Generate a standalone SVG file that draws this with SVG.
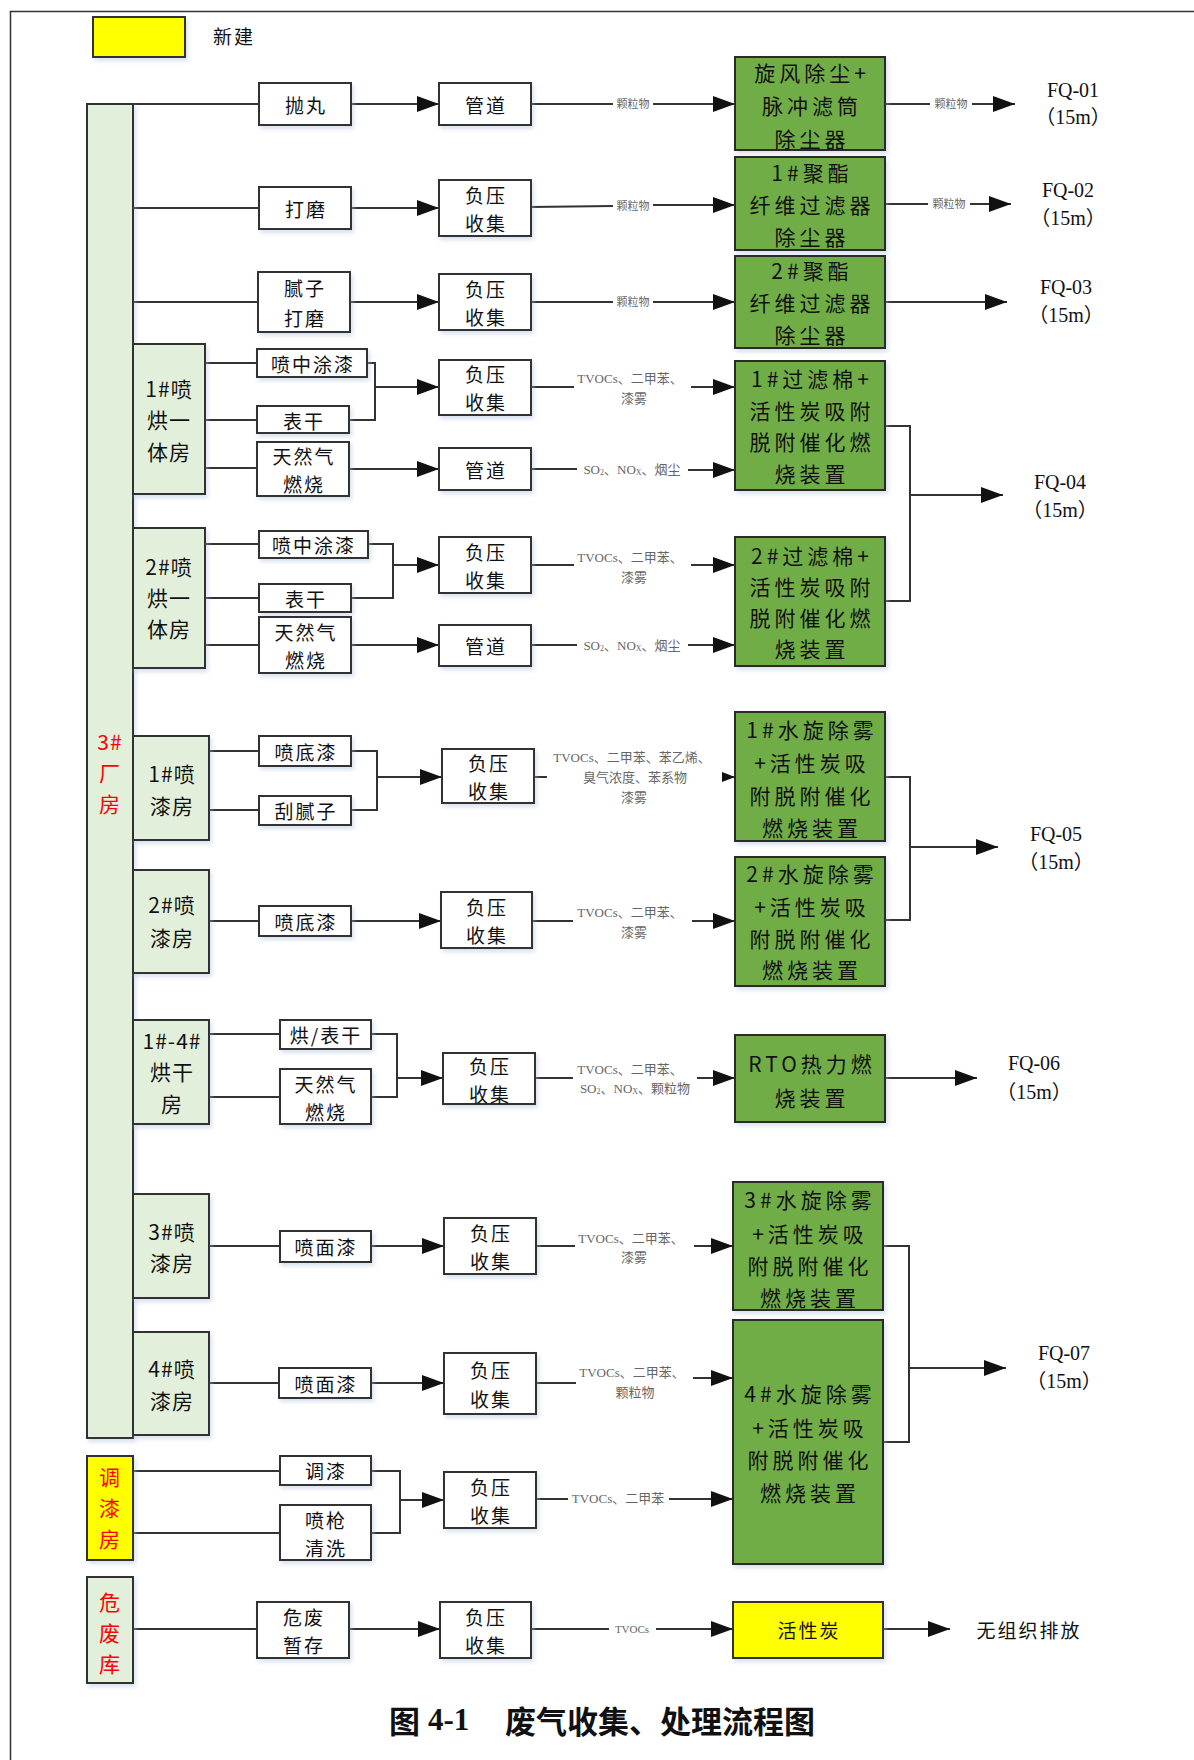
<svg xmlns="http://www.w3.org/2000/svg" width="1194" height="1760" viewBox="0 0 1194 1760">
<style>
.box{fill:#fff;stroke:#333;stroke-width:2}
.room{fill:#e2efda;stroke:#333;stroke-width:2}
.grn{fill:#70ad47;stroke:#2a2a2a;stroke-width:2}
.yel{fill:#ffff00;stroke:#333;stroke-width:2}
.t{font-family:"Noto Sans CJK SC","Liberation Sans",sans-serif;font-size:19px;letter-spacing:2px;fill:#111;text-anchor:middle;dominant-baseline:central}
.tr{font-family:"Noto Sans CJK SC","Liberation Sans",sans-serif;font-size:21px;letter-spacing:1px;fill:#111;text-anchor:middle;dominant-baseline:central}
.red{fill:#ff0000}
.tg{font-family:"Noto Sans CJK SC","Liberation Sans",sans-serif;font-size:21px;letter-spacing:4px;fill:#111;text-anchor:middle;dominant-baseline:central}
.fq{font-family:"Liberation Serif","Noto Sans CJK SC",serif;font-size:20px;fill:#111;text-anchor:middle;dominant-baseline:central}
.lb{font-family:"Liberation Serif","Noto Sans CJK SC",serif;font-size:13px;fill:#666;text-anchor:middle;dominant-baseline:central}
.ln{fill:none;stroke:#333;stroke-width:2}
.ar{marker-end:url(#ah)}
.cap{font-family:"Liberation Serif","Noto Sans CJK SC",serif;font-size:31px;font-weight:bold;fill:#111;dominant-baseline:central}
</style>
<defs>
<marker id="ah" markerUnits="userSpaceOnUse" markerWidth="22" markerHeight="16" refX="22" refY="8" orient="auto"><path d="M0,0 L22,8 L0,16 z" fill="#111"/></marker>
<marker id="ahs" markerUnits="userSpaceOnUse" markerWidth="13" markerHeight="10" refX="13" refY="5" orient="auto"><path d="M0,0 L13,5 L0,10 z" fill="#111"/></marker>
<filter id="sh" x="-10%" y="-10%" width="125%" height="130%"><feDropShadow dx="2" dy="3" stdDeviation="2" flood-color="#a9bddd" flood-opacity="0.45"/></filter>
</defs>

<g id="frame"><path d="M10.5,1760 V11.5 H1194" fill="none" stroke="#333" stroke-width="1.5"/></g>

<g id="legend"><rect x="93" y="17" width="92" height="40" class="yel" filter="url(#sh)"/><text x="234" y="35" class="t">新建</text></g>

<g id="connectors">
<!-- row1 -->
<path class="ln" d="M133,104 H259"/>
<path class="ln ar" d="M351,104 H439"/>
<path class="ln" d="M531,104 H613"/><text class="lb" x="633" y="104" style="font-size:11px">颗粒物</text><path class="ln ar" d="M653,104 H735"/>
<path class="ln" d="M885,104 H930"/><text class="lb" x="951" y="104" style="font-size:11px">颗粒物</text><path class="ln ar" d="M972,104 H1015"/>
<!-- row2 -->
<path class="ln" d="M133,208 H259"/>
<path class="ln ar" d="M351,208 H439"/>
<path class="ln" d="M531,207 L613,206"/><text class="lb" x="633" y="206" style="font-size:11px">颗粒物</text><path class="ln ar" d="M653,205 H735"/>
<path class="ln" d="M885,204 H928"/><text class="lb" x="949" y="204" style="font-size:11px">颗粒物</text><path class="ln ar" d="M970,204 H1011"/>
<!-- row3 -->
<path class="ln" d="M133,302 H258"/>
<path class="ln ar" d="M350,302 H439"/>
<path class="ln" d="M531,302 H613"/><text class="lb" x="633" y="302" style="font-size:11px">颗粒物</text><path class="ln ar" d="M653,302 H735"/>
<path class="ln ar" d="M885,302 H1007"/>
<!-- R1 -->
<path class="ln" d="M205,363 H257 M205,420 H257 M205,468 H257"/>
<path class="ln" d="M367,363 H375 V420 H349"/>
<path class="ln ar" d="M375,387 H439"/>
<path class="ln" d="M531,387 H574"/>
<text class="lb" x="630" y="378">TVOCs、二甲苯、</text><text class="lb" x="634" y="398">漆雾</text>
<path class="ln ar" d="M691,387 H735"/>
<path class="ln ar" d="M349,469 H439"/>
<path class="ln" d="M531,469 H577"/>
<text class="lb" x="632" y="469">SO<tspan font-size="8" dy="3">2</tspan><tspan dy="-3">、NO</tspan><tspan font-size="8" dy="3">X</tspan><tspan dy="-3">、烟尘</tspan></text>
<path class="ln ar" d="M688,470 H735"/>
<path class="ln" d="M885,426 H910 V601 H885"/>
<path class="ln ar" d="M910,495 H1003"/>
<!-- R2 -->
<path class="ln" d="M205,544 H259 M205,598 H259 M205,645 H259"/>
<path class="ln" d="M368,544 H393 V598 H351"/>
<path class="ln ar" d="M393,565 H439"/>
<path class="ln" d="M531,565 H574"/>
<text class="lb" x="630" y="557">TVOCs、二甲苯、</text><text class="lb" x="634" y="577">漆雾</text>
<path class="ln ar" d="M691,565 H735"/>
<path class="ln ar" d="M351,645 H439"/>
<path class="ln" d="M531,645 H577"/>
<text class="lb" x="632" y="645">SO<tspan font-size="8" dy="3">2</tspan><tspan dy="-3">、NO</tspan><tspan font-size="8" dy="3">X</tspan><tspan dy="-3">、烟尘</tspan></text>
<path class="ln ar" d="M688,645 H735"/>
<!-- R3 -->
<path class="ln" d="M209,751 H259 M209,810 H259"/>
<path class="ln" d="M351,751 H377 V810 H351"/>
<path class="ln ar" d="M377,777 H442"/>
<path class="ln" d="M534,777 H547"/>
<text class="lb" x="632" y="757">TVOCs、二甲苯、苯乙烯、</text>
<text class="lb" x="635" y="777">臭气浓度、苯系物</text>
<text class="lb" x="634" y="797">漆雾</text>
<path class="ln" d="M722,777 H735" marker-end="url(#ahs)"/>
<path class="ln" d="M885,777 H910 V920 H885"/>
<path class="ln ar" d="M910,847 H998"/>
<!-- R4 -->
<path class="ln" d="M209,921 H259"/>
<path class="ln ar" d="M351,921 H441"/>
<path class="ln" d="M532,921 H573"/>
<text class="lb" x="630" y="912">TVOCs、二甲苯、</text><text class="lb" x="634" y="932">漆雾</text>
<path class="ln ar" d="M692,921 H735"/>
<!-- R5 -->
<path class="ln" d="M209,1034 H280 M209,1097 H280"/>
<path class="ln" d="M371,1034 H397 V1097 H371"/>
<path class="ln ar" d="M397,1078 H443"/>
<path class="ln" d="M535,1078 H573"/>
<text class="lb" x="630" y="1069">TVOCs、二甲苯、</text>
<text class="lb" x="635" y="1088">SO<tspan font-size="8" dy="3">2</tspan><tspan dy="-3">、NO</tspan><tspan font-size="8" dy="3">X</tspan><tspan dy="-3">、颗粒物</tspan></text>
<path class="ln ar" d="M697,1078 H735"/>
<path class="ln ar" d="M885,1078 H977"/>
<!-- R6 -->
<path class="ln" d="M209,1246 H280"/>
<path class="ln ar" d="M371,1246 H444"/>
<path class="ln" d="M536,1246 H575"/>
<text class="lb" x="631" y="1238">TVOCs、二甲苯、</text><text class="lb" x="634" y="1257">漆雾</text>
<path class="ln ar" d="M694,1246 H733"/>
<path class="ln" d="M883,1246 H909 V1442 H883"/>
<path class="ln ar" d="M909,1368 H1006"/>
<!-- R7 -->
<path class="ln" d="M209,1383 H279"/>
<path class="ln ar" d="M371,1383 H444"/>
<path class="ln" d="M536,1383 H576"/>
<text class="lb" x="632" y="1372">TVOCs、二甲苯、</text><text class="lb" x="635" y="1392">颗粒物</text>
<path class="ln ar" d="M693,1378 H733"/>
<!-- tiaoqi -->
<path class="ln" d="M133,1471 H280 M133,1533 H280"/>
<path class="ln" d="M371,1471 H400 V1533 H371"/>
<path class="ln ar" d="M400,1500 H444"/>
<path class="ln" d="M536,1499 H568"/>
<text class="lb" x="618" y="1498">TVOCs、二甲苯</text>
<path class="ln ar" d="M669,1499 H733"/>
<!-- weifei -->
<path class="ln" d="M133,1629 H257"/>
<path class="ln ar" d="M349,1629 H440"/>
<path class="ln" d="M531,1629 H609"/>
<text class="lb" x="632" y="1629" style="font-size:11px">TVOCs</text>
<path class="ln ar" d="M656,1629 H733"/>
<path class="ln ar" d="M883,1629 H950"/>
</g>

<!-- main bar -->
<g id="n-plant3"><rect x="87" y="104" width="46" height="1334" class="room" filter="url(#sh)"/>
<text class="tr red" x="110" y="741">3#</text><text class="tr red" x="110" y="772">厂</text><text class="tr red" x="110" y="803">房</text></g>

<!-- rooms -->
<g id="n-room-1pho"><rect x="133" y="344" width="72" height="150" class="room" filter="url(#sh)"/>
<text class="tr" x="169" y="388">1#喷</text><text class="tr" x="169" y="419">烘一</text><text class="tr" x="169" y="451">体房</text></g>
<g id="n-room-2pho"><rect x="133" y="528" width="72" height="140" class="room" filter="url(#sh)"/>
<text class="tr" x="169" y="566">2#喷</text><text class="tr" x="169" y="597">烘一</text><text class="tr" x="169" y="628">体房</text></g>
<g id="n-room-1pq"><rect x="133" y="736" width="76" height="104" class="room" filter="url(#sh)"/>
<text class="tr" x="172" y="773">1#喷</text><text class="tr" x="172" y="805">漆房</text></g>
<g id="n-room-2pq"><rect x="133" y="870" width="76" height="103" class="room" filter="url(#sh)"/>
<text class="tr" x="172" y="904">2#喷</text><text class="tr" x="172" y="937">漆房</text></g>
<g id="n-room-hg"><rect x="133" y="1020" width="76" height="104" class="room" filter="url(#sh)"/>
<text class="tr" x="172" y="1040">1#-4#</text><text class="tr" x="172" y="1071">烘干</text><text class="tr" x="172" y="1103">房</text></g>
<g id="n-room-3pq"><rect x="133" y="1194" width="76" height="104" class="room" filter="url(#sh)"/>
<text class="tr" x="172" y="1231">3#喷</text><text class="tr" x="172" y="1262">漆房</text></g>
<g id="n-room-4pq"><rect x="133" y="1332" width="76" height="103" class="room" filter="url(#sh)"/>
<text class="tr" x="172" y="1368">4#喷</text><text class="tr" x="172" y="1400">漆房</text></g>
<g id="n-tiaoqi"><rect x="87" y="1456" width="46" height="104" class="yel" filter="url(#sh)"/>
<text class="tr red" x="110" y="1476">调</text><text class="tr red" x="110" y="1507">漆</text><text class="tr red" x="110" y="1538">房</text></g>
<g id="n-weifeiku"><rect x="87" y="1577" width="46" height="106" class="room" filter="url(#sh)"/>
<text class="tr red" x="110" y="1601">危</text><text class="tr red" x="110" y="1632">废</text><text class="tr red" x="110" y="1663">库</text></g>

<!-- process boxes -->
<g id="n-paowan"><rect x="259" y="83" width="92" height="42" class="box" filter="url(#sh)"/><text class="t" x="306" y="104">抛丸</text></g>
<g id="n-gd1"><rect x="439" y="83" width="92" height="42" class="box" filter="url(#sh)"/><text class="t" x="486" y="104">管道</text></g>
<g id="n-damo"><rect x="259" y="187" width="92" height="42" class="box" filter="url(#sh)"/><text class="t" x="306" y="208">打磨</text></g>
<g id="n-fy2"><rect x="439" y="180" width="92" height="56" class="box" filter="url(#sh)"/><text class="t" x="486" y="194">负压</text><text class="t" x="486" y="222">收集</text></g>
<g id="n-nizi"><rect x="258" y="272" width="92" height="60" class="box" filter="url(#sh)"/><text class="t" x="305" y="287">腻子</text><text class="t" x="305" y="317">打磨</text></g>
<g id="n-fy3"><rect x="439" y="274" width="92" height="56" class="box" filter="url(#sh)"/><text class="t" x="486" y="288">负压</text><text class="t" x="486" y="316">收集</text></g>

<g id="n-pz1"><rect x="257" y="349" width="110" height="28" class="box" filter="url(#sh)"/><text class="t" x="313" y="363">喷中涂漆</text></g>
<g id="n-bg1"><rect x="257" y="406" width="92" height="27" class="box" filter="url(#sh)"/><text class="t" x="304" y="420">表干</text></g>
<g id="n-trq1"><rect x="257" y="442" width="92" height="54" class="box" filter="url(#sh)"/><text class="t" x="304" y="455">天然气</text><text class="t" x="304" y="483">燃烧</text></g>
<g id="n-fy4"><rect x="439" y="360" width="92" height="55" class="box" filter="url(#sh)"/><text class="t" x="486" y="373">负压</text><text class="t" x="486" y="401">收集</text></g>
<g id="n-gd4"><rect x="439" y="448" width="92" height="42" class="box" filter="url(#sh)"/><text class="t" x="486" y="469">管道</text></g>

<g id="n-pz2"><rect x="259" y="531" width="109" height="27" class="box" filter="url(#sh)"/><text class="t" x="314" y="544">喷中涂漆</text></g>
<g id="n-bg2"><rect x="259" y="584" width="92" height="28" class="box" filter="url(#sh)"/><text class="t" x="306" y="598">表干</text></g>
<g id="n-trq2"><rect x="259" y="617" width="92" height="56" class="box" filter="url(#sh)"/><text class="t" x="306" y="631">天然气</text><text class="t" x="306" y="659">燃烧</text></g>
<g id="n-fy5"><rect x="439" y="537" width="92" height="56" class="box" filter="url(#sh)"/><text class="t" x="486" y="551">负压</text><text class="t" x="486" y="579">收集</text></g>
<g id="n-gd5"><rect x="439" y="625" width="92" height="41" class="box" filter="url(#sh)"/><text class="t" x="486" y="645">管道</text></g>

<g id="n-pdq1"><rect x="259" y="736" width="92" height="30" class="box" filter="url(#sh)"/><text class="t" x="306" y="751">喷底漆</text></g>
<g id="n-gnz"><rect x="259" y="796" width="92" height="29" class="box" filter="url(#sh)"/><text class="t" x="306" y="810">刮腻子</text></g>
<g id="n-fy6"><rect x="442" y="749" width="92" height="54" class="box" filter="url(#sh)"/><text class="t" x="489" y="762">负压</text><text class="t" x="489" y="790">收集</text></g>

<g id="n-pdq2"><rect x="259" y="906" width="92" height="30" class="box" filter="url(#sh)"/><text class="t" x="306" y="921">喷底漆</text></g>
<g id="n-fy7"><rect x="441" y="892" width="91" height="56" class="box" filter="url(#sh)"/><text class="t" x="487" y="906">负压</text><text class="t" x="487" y="934">收集</text></g>

<g id="n-hbg"><rect x="280" y="1020" width="91" height="29" class="box" filter="url(#sh)"/><text class="t" x="326" y="1034">烘/表干</text></g>
<g id="n-trq3"><rect x="280" y="1069" width="91" height="55" class="box" filter="url(#sh)"/><text class="t" x="326" y="1083">天然气</text><text class="t" x="326" y="1111">燃烧</text></g>
<g id="n-fy8"><rect x="443" y="1053" width="92" height="51" class="box" filter="url(#sh)"/><text class="t" x="490" y="1065">负压</text><text class="t" x="490" y="1093">收集</text></g>

<g id="n-pmq3"><rect x="280" y="1231" width="91" height="31" class="box" filter="url(#sh)"/><text class="t" x="326" y="1246">喷面漆</text></g>
<g id="n-fy9"><rect x="444" y="1218" width="92" height="56" class="box" filter="url(#sh)"/><text class="t" x="491" y="1232">负压</text><text class="t" x="491" y="1260">收集</text></g>

<g id="n-pmq4"><rect x="279" y="1368" width="92" height="30" class="box" filter="url(#sh)"/><text class="t" x="326" y="1383">喷面漆</text></g>
<g id="n-fy10"><rect x="444" y="1353" width="92" height="61" class="box" filter="url(#sh)"/><text class="t" x="491" y="1369">负压</text><text class="t" x="491" y="1398">收集</text></g>

<g id="n-tq"><rect x="280" y="1456" width="91" height="29" class="box" filter="url(#sh)"/><text class="t" x="326" y="1470">调漆</text></g>
<g id="n-pqqx"><rect x="280" y="1505" width="91" height="55" class="box" filter="url(#sh)"/><text class="t" x="326" y="1519">喷枪</text><text class="t" x="326" y="1547">清洗</text></g>
<g id="n-fy11"><rect x="444" y="1472" width="92" height="56" class="box" filter="url(#sh)"/><text class="t" x="491" y="1486">负压</text><text class="t" x="491" y="1514">收集</text></g>

<g id="n-wfzc"><rect x="257" y="1602" width="92" height="56" class="box" filter="url(#sh)"/><text class="t" x="304" y="1616">危废</text><text class="t" x="304" y="1644">暂存</text></g>
<g id="n-fy12"><rect x="440" y="1602" width="91" height="56" class="box" filter="url(#sh)"/><text class="t" x="486" y="1616">负压</text><text class="t" x="486" y="1644">收集</text></g>

<!-- treatment (green) -->
<g id="n-g1"><rect x="735" y="57" width="150" height="93" class="grn" filter="url(#sh)"/>
<text class="tg" x="812" y="72">旋风除尘+</text><text class="tg" x="812" y="105">脉冲滤筒</text><text class="tg" x="812" y="138">除尘器</text></g>
<g id="n-g2"><rect x="735" y="157" width="150" height="93" class="grn" filter="url(#sh)"/>
<text class="tg" x="812" y="172">1#聚酯</text><text class="tg" x="812" y="204">纤维过滤器</text><text class="tg" x="812" y="236">除尘器</text></g>
<g id="n-g3"><rect x="735" y="256" width="150" height="92" class="grn" filter="url(#sh)"/>
<text class="tg" x="812" y="270">2#聚酯</text><text class="tg" x="812" y="302">纤维过滤器</text><text class="tg" x="812" y="334">除尘器</text></g>
<g id="n-g4"><rect x="735" y="361" width="150" height="129" class="grn" filter="url(#sh)"/>
<text class="tg" x="812" y="378">1#过滤棉+</text><text class="tg" x="812" y="410">活性炭吸附</text><text class="tg" x="812" y="441">脱附催化燃</text><text class="tg" x="812" y="473">烧装置</text></g>
<g id="n-g5"><rect x="735" y="537" width="150" height="129" class="grn" filter="url(#sh)"/>
<text class="tg" x="812" y="555">2#过滤棉+</text><text class="tg" x="812" y="586">活性炭吸附</text><text class="tg" x="812" y="617">脱附催化燃</text><text class="tg" x="812" y="648">烧装置</text></g>
<g id="n-g6"><rect x="735" y="712" width="150" height="129" class="grn" filter="url(#sh)"/>
<text class="tg" x="812" y="729">1#水旋除雾</text><text class="tg" x="812" y="762">+活性炭吸</text><text class="tg" x="812" y="795">附脱附催化</text><text class="tg" x="812" y="827">燃烧装置</text></g>
<g id="n-g7"><rect x="735" y="857" width="150" height="129" class="grn" filter="url(#sh)"/>
<text class="tg" x="812" y="873">2#水旋除雾</text><text class="tg" x="812" y="906">+活性炭吸</text><text class="tg" x="812" y="938">附脱附催化</text><text class="tg" x="812" y="969">燃烧装置</text></g>
<g id="n-g8"><rect x="735" y="1035" width="150" height="87" class="grn" filter="url(#sh)"/>
<text class="tg" x="812" y="1063">RTO热力燃</text><text class="tg" x="812" y="1097">烧装置</text></g>
<g id="n-g9"><rect x="733" y="1182" width="150" height="128" class="grn" filter="url(#sh)"/>
<text class="tg" x="810" y="1199">3#水旋除雾</text><text class="tg" x="810" y="1233">+活性炭吸</text><text class="tg" x="810" y="1265">附脱附催化</text><text class="tg" x="810" y="1297">燃烧装置</text></g>
<g id="n-g10"><rect x="733" y="1320" width="150" height="244" class="grn" filter="url(#sh)"/>
<text class="tg" x="810" y="1393">4#水旋除雾</text><text class="tg" x="810" y="1427">+活性炭吸</text><text class="tg" x="810" y="1459">附脱附催化</text><text class="tg" x="810" y="1492">燃烧装置</text></g>
<g id="n-hxt"><rect x="733" y="1602" width="150" height="56" class="yel" filter="url(#sh)"/><text class="t" x="809" y="1629">活性炭</text></g>

<!-- outlets -->
<g id="n-fq01"><text class="fq" x="1073" y="90">FQ-01</text><text class="fq" x="1073" y="117">（15m）</text></g>
<g id="n-fq02"><text class="fq" x="1068" y="190">FQ-02</text><text class="fq" x="1068" y="218">（15m）</text></g>
<g id="n-fq03"><text class="fq" x="1066" y="287">FQ-03</text><text class="fq" x="1066" y="315">（15m）</text></g>
<g id="n-fq04"><text class="fq" x="1060" y="482">FQ-04</text><text class="fq" x="1060" y="510">（15m）</text></g>
<g id="n-fq05"><text class="fq" x="1056" y="834">FQ-05</text><text class="fq" x="1056" y="862">（15m）</text></g>
<g id="n-fq06"><text class="fq" x="1034" y="1063">FQ-06</text><text class="fq" x="1034" y="1092">（15m）</text></g>
<g id="n-fq07"><text class="fq" x="1064" y="1353">FQ-07</text><text class="fq" x="1064" y="1381">（15m）</text></g>
<g id="n-wzz"><text class="t" x="1029" y="1629">无组织排放</text></g>

<g id="caption"><text class="cap" x="389" y="1719"><tspan font-family="Noto Sans CJK SC, sans-serif">图</tspan><tspan x="428">4-1</tspan><tspan x="505" font-family="Noto Sans CJK SC, sans-serif">废气收集、处理流程图</tspan></text></g>
</svg>
